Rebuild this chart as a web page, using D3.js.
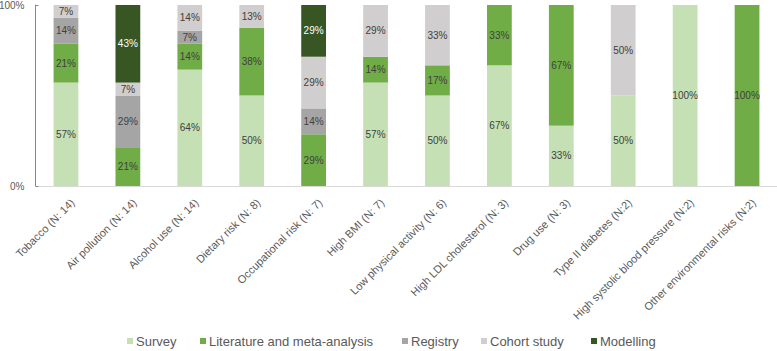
<!DOCTYPE html>
<html><head><meta charset="utf-8">
<script src="https://cdn.jsdelivr.net/npm/d3@7"></script>
<style>body{margin:0;background:#fff}svg{display:block;font-family:"Liberation Sans",Arial,sans-serif}</style>
</head><body><svg id="c" width="777" height="351"></svg>
<script>
const categories = ["Tobacco (N: 14)","Air pollution (N: 14)","Alcohol use (N: 14)","Dietary risk (N: 8)","Occupational risk (N: 7)","High BMI (N: 7)","Low physical activity (N: 6)","High LDL cholesterol (N: 3)","Drug use (N: 3)","Type II diabetes (N:2)","High systolic blood pressure (N:2)","Other environmental risks (N:2)"];
const seriesNames = ["Survey","Literature and meta-analysis","Registry","Cohort study","Modelling"];
const survey     = [57.14, 0, 64.29, 50, 0, 57.14, 50, 66.67, 33.33, 50, 100, 0];
const literature = [21.43, 21.43, 14.29, 37.5, 28.57, 14.29, 16.67, 33.33, 66.67, 0, 0, 100];
const registry   = [14.29, 28.57, 7.14, 0, 14.29, 0, 0, 0, 0, 0, 0, 0];
const cohort     = [7.14, 7.14, 14.29, 12.5, 28.57, 28.57, 33.33, 0, 0, 50, 0, 0];
const modelling  = [0, 42.86, 0, 0, 28.57, 0, 0, 0, 0, 0, 0, 0];
const yTicks = [0, 100];
const colors = ["#c5e0b4","#70ad47","#a5a5a5","#d0cece","#375623"];
const labelColors = ["#404040","#404040","#404040","#404040","#ffffff"];

const seriesValues = [survey, literature, registry, cohort, modelling];
const rows = categories.map((c,i)=>{const r={cat:c}; seriesNames.forEach((s,j)=>r[s]=seriesValues[j][i]); return r;});
const stack = d3.stack().keys(seriesNames)(rows);

const svg = d3.select("#c");
const x = d3.scaleBand().domain(categories).range([35, 778]).paddingInner(0.6).paddingOuter(0.3);
const y = d3.scaleLinear().domain([0,100]).range([186, 5]);

// baseline
svg.append("line").attr("x1",35).attr("x2",777).attr("y1",y(0)+0.5).attr("y2",y(0)+0.5).attr("stroke","#d9d9d9").attr("stroke-width",1);

stack.forEach((s,si)=>{
  const g = svg.append("g");
  g.selectAll("rect").data(s.filter(d=>d[1]-d[0]>0)).join("rect")
    .attr("x",d=>x(d.data.cat)).attr("width",x.bandwidth())
    .attr("y",d=>y(d[1])).attr("height",d=>y(d[0])-y(d[1]))
    .attr("fill",colors[si]);
  g.selectAll("text").data(s.filter(d=>d[1]-d[0]>0)).join("text")
    .attr("x",d=>x(d.data.cat)+x.bandwidth()/2)
    .attr("y",d=>(y(d[0])+y(d[1]))/2)
    .attr("dy","0.35em").attr("text-anchor","middle")
    .attr("font-size",10).attr("fill",labelColors[si])
    .text(d=>Math.round(d[1]-d[0])+"%");
});

// y axis
const ya = svg.append("g").attr("transform","translate(35.5,0)")
  .call(d3.axisLeft(y).tickValues(yTicks).tickFormat(d=>d+"%").tickSize(-3).tickPadding(11));
ya.select(".domain").attr("stroke","#868686").attr("d","M-0.5,"+y(100)+"H0V"+y(0));
ya.selectAll(".tick line").attr("stroke","#868686");
ya.selectAll(".tick text").attr("font-size",10).attr("fill","#595959").attr("font-family","Liberation Sans, Arial, sans-serif");

// x labels
svg.append("g").selectAll("text").data(categories).join("text")
  .attr("transform",d=>`translate(${x(d)+x.bandwidth()/2+4},198) rotate(-45)`)
  .attr("text-anchor","end").attr("dy","0.7em")
  .attr("font-size",11).attr("fill","#595959").text(d=>d);

// legend
const legX = [127, 200, 402, 481, 591];
const lg = svg.append("g");
seriesNames.forEach((s,i)=>{
  lg.append("rect").attr("x",legX[i]).attr("y",338).attr("width",6).attr("height",6).attr("fill",colors[i]);
  lg.append("text").attr("x",legX[i]+9).attr("y",341).attr("dy","0.35em").attr("font-size",13).attr("fill","#595959").text(s);
});
</script></body></html>
